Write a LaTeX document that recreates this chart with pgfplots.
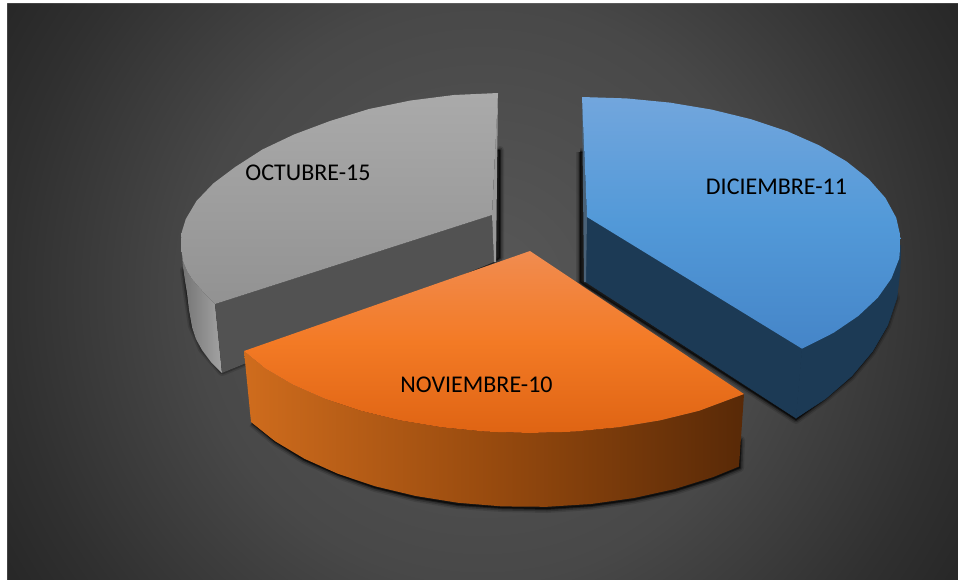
\documentclass[border=0pt]{standalone}
\usepackage{fontspec}
\setmainfont{Carlito}
\usepackage{pgfplots}
\pgfplotsset{compat=1.18}

\definecolor{bgin}{HTML}{585858}
\definecolor{bgaa}{HTML}{484848}
\definecolor{bgbb}{HTML}{303030}
\definecolor{bgout}{HTML}{282828}
\pgfdeclareradialshading{bgglow}{\pgfpoint{0bp}{0bp}}{%
  color(0bp)=(bgin); color(15.1bp)=(bgaa); color(24.7bp)=(bgbb); color(28.6bp)=(bgout); color(50bp)=(bgout)}

\definecolor{grayhi}{HTML}{AAAAAA}
\definecolor{graylo}{HTML}{929292}
\definecolor{grayinner}{HTML}{525252}
\definecolor{bluehi}{HTML}{72A6DD}
\definecolor{bluemid}{HTML}{5299D8}
\definecolor{bluelo}{HTML}{4585C8}
\definecolor{bluedark}{HTML}{1C3A55}
\definecolor{orlight}{HTML}{F18C50}
\definecolor{ormid}{HTML}{F37A25}
\definecolor{orlow}{HTML}{DF6413}
\definecolor{orsl}{HTML}{CF6C1D}
\definecolor{orsm}{HTML}{974A0E}
\definecolor{orsr}{HTML}{582907}

% soft shadow: the same outline stacked at falling widths
\newcommand{\softshadow}[1]{%
  \addplot[draw=black, fill=black, line join=round, line width=8pt, opacity=0.12] coordinates {#1};
  \addplot[draw=black, fill=black, line join=round, line width=5pt, opacity=0.22] coordinates {#1};
  \addplot[draw=black, fill=black, line join=round, line width=2pt, opacity=0.40] coordinates {#1};
}

\begin{document}
\begin{tikzpicture}
\begin{axis}[
  scale only axis, width=958pt, height=579pt,
  xmin=0, xmax=958, ymin=0, ymax=579, y dir=reverse,
  hide axis, clip=true,
  sharp plot, no markers,
]
% backdrop: a square, so that the glow stays round; the axis clips it
\addplot[draw=none, shade, shading=bgglow] coordinates {(2,-189) (962,-189) (962,771) (2,771) (2,-189)};
\addplot[draw=none, fill=white] coordinates {(-5,-5) (7,-5) (7,590) (-5,590) (-5,-5)};
\addplot[draw=none, fill=white] coordinates {(-5,-5) (965,-5) (965,3) (-5,3) (-5,-5)};

% shadows
\softshadow{(499,150) (500,150) (500,258) (494,262) (222,372) (202,349) (192,326) (187,293) (184,270) (300,200) (499,150)}
\softshadow{(580,152) (590,152) (590,200) (880,250) (896,298) (887,326) (872,352) (851,377) (825,399) (796,420) (584,285) (580,282) (580,152)}
\softshadow{(252,423) (275,442) (304,460) (338,475) (375,488) (416,498) (458,505) (502,508) (547,509) (591,506) (634,500) (675,491) (713,479) (740,468) (741,440) (300,400) (252,423)}

% OCTUBRE-15
\addplot[draw=none, left color=black!55, right color=black!36] coordinates {
  (181,240) (181.5,250) (183,261) (187,271) (192,279) (197,285) (206,295) (215,304)
  (222,373) (211,362) (202,350) (196,339) (192,327) (189,310) (187,293) (185,281) (183,267) (182,255) (181,240)};
\addplot[draw=none, fill=grayinner] coordinates {(215,304) (492,215) (494,262) (222,373) (215,304)};
\addplot[draw=none, fill=black!40] coordinates {(498,93) (492,215) (494,262) (496,262) (498,93)};
\addplot[draw=none, top color=grayhi, bottom color=graylo] coordinates {
  (498,93) (453.9,95) (410.6,100.5) (369,109) (330,121) (294,134.5) (262.4,149.5) (235.2,167)
  (213.1,183.6) (196.5,201) (185.8,219) (181.8,232) (181,240) (181.5,250) (183,261) (187,271)
  (192,279) (197,285) (206,295) (215,304) (492,215) (498,93)};

% DICIEMBRE-11
\addplot[draw=bluedark, line width=0.6pt, fill=bluedark] coordinates {
  (802,348.7) (833.4,332.9) (858.3,316) (877.8,297.7) (891.5,278.3) (899.3,258.3) (900.8,245)
  (900,270) (896.9,297.8) (887.7,325.1) (872.5,351.3) (851.7,376) (825.6,398.6) (796,418) (802,348.7)};
\addplot[draw=bluedark, line width=0.6pt, fill=bluedark] coordinates {(587,217) (802,348) (796,418) (586,282) (587,217)};
\addplot[draw=none, fill=bluedark!80!white] coordinates {(582,97) (587,217) (586,282) (584,282) (582,97)};
\addplot[draw=none, top color=bluehi, bottom color=bluelo, middle color=bluemid] coordinates {
  (582,97) (626.4,98.4) (669.9,102.6) (711.7,109.6) (751,119.2) (787.1,131.2) (819.1,145.3)
  (846.5,161.4) (868.7,179) (885.4,197.9) (896.2,217.7) (900.8,237.9) (899.3,258.3) (891.5,278.3)
  (877.8,297.7) (858.3,316) (833.4,332.9) (802,348.7) (587,217) (582,97)};

% NOVIEMBRE-10
\addplot[draw=none, left color=orsl, right color=orsr, middle color=orsm] coordinates {
  (244,351) (265.5,368.6) (293,384.7) (325,398.8) (361,410.8) (400.2,420.4) (442,427.3) (485.6,431.6)
  (530,433) (574.4,431.6) (618,427.3) (659.8,420.4) (699,410.8) (744,394)
  (739,466.5) (713,477.1) (674.8,489) (634,498) (590.9,504) (546.6,506.8) (502.2,506.4) (458.2,502.8)
  (415.8,496) (375.3,486.3) (338,473.8) (304.4,458.7) (275.2,441.3) (251,422) (244,351)};
\addplot[draw=none, top color=orlight, bottom color=orlow, middle color=ormid] coordinates {
  (530,251) (244,351) (265.5,368.6) (293,384.7) (325,398.8) (361,410.8) (400.2,420.4) (442,427.3)
  (485.6,431.6) (530,433) (574.4,431.6) (618,427.3) (659.8,420.4) (699,410.8) (744,394) (530,251)};

% labels
\node[font=\fontsize{24}{28}\selectfont, text=black] at (axis cs:308,173) {OCTUBRE-15};
\node[font=\fontsize{24}{28}\selectfont, text=black] at (axis cs:776.5,187) {DICIEMBRE-11};
\node[font=\fontsize{24}{28}\selectfont, text=black] at (axis cs:476.5,385) {NOVIEMBRE-10};
\end{axis}
\end{tikzpicture}
\end{document}
